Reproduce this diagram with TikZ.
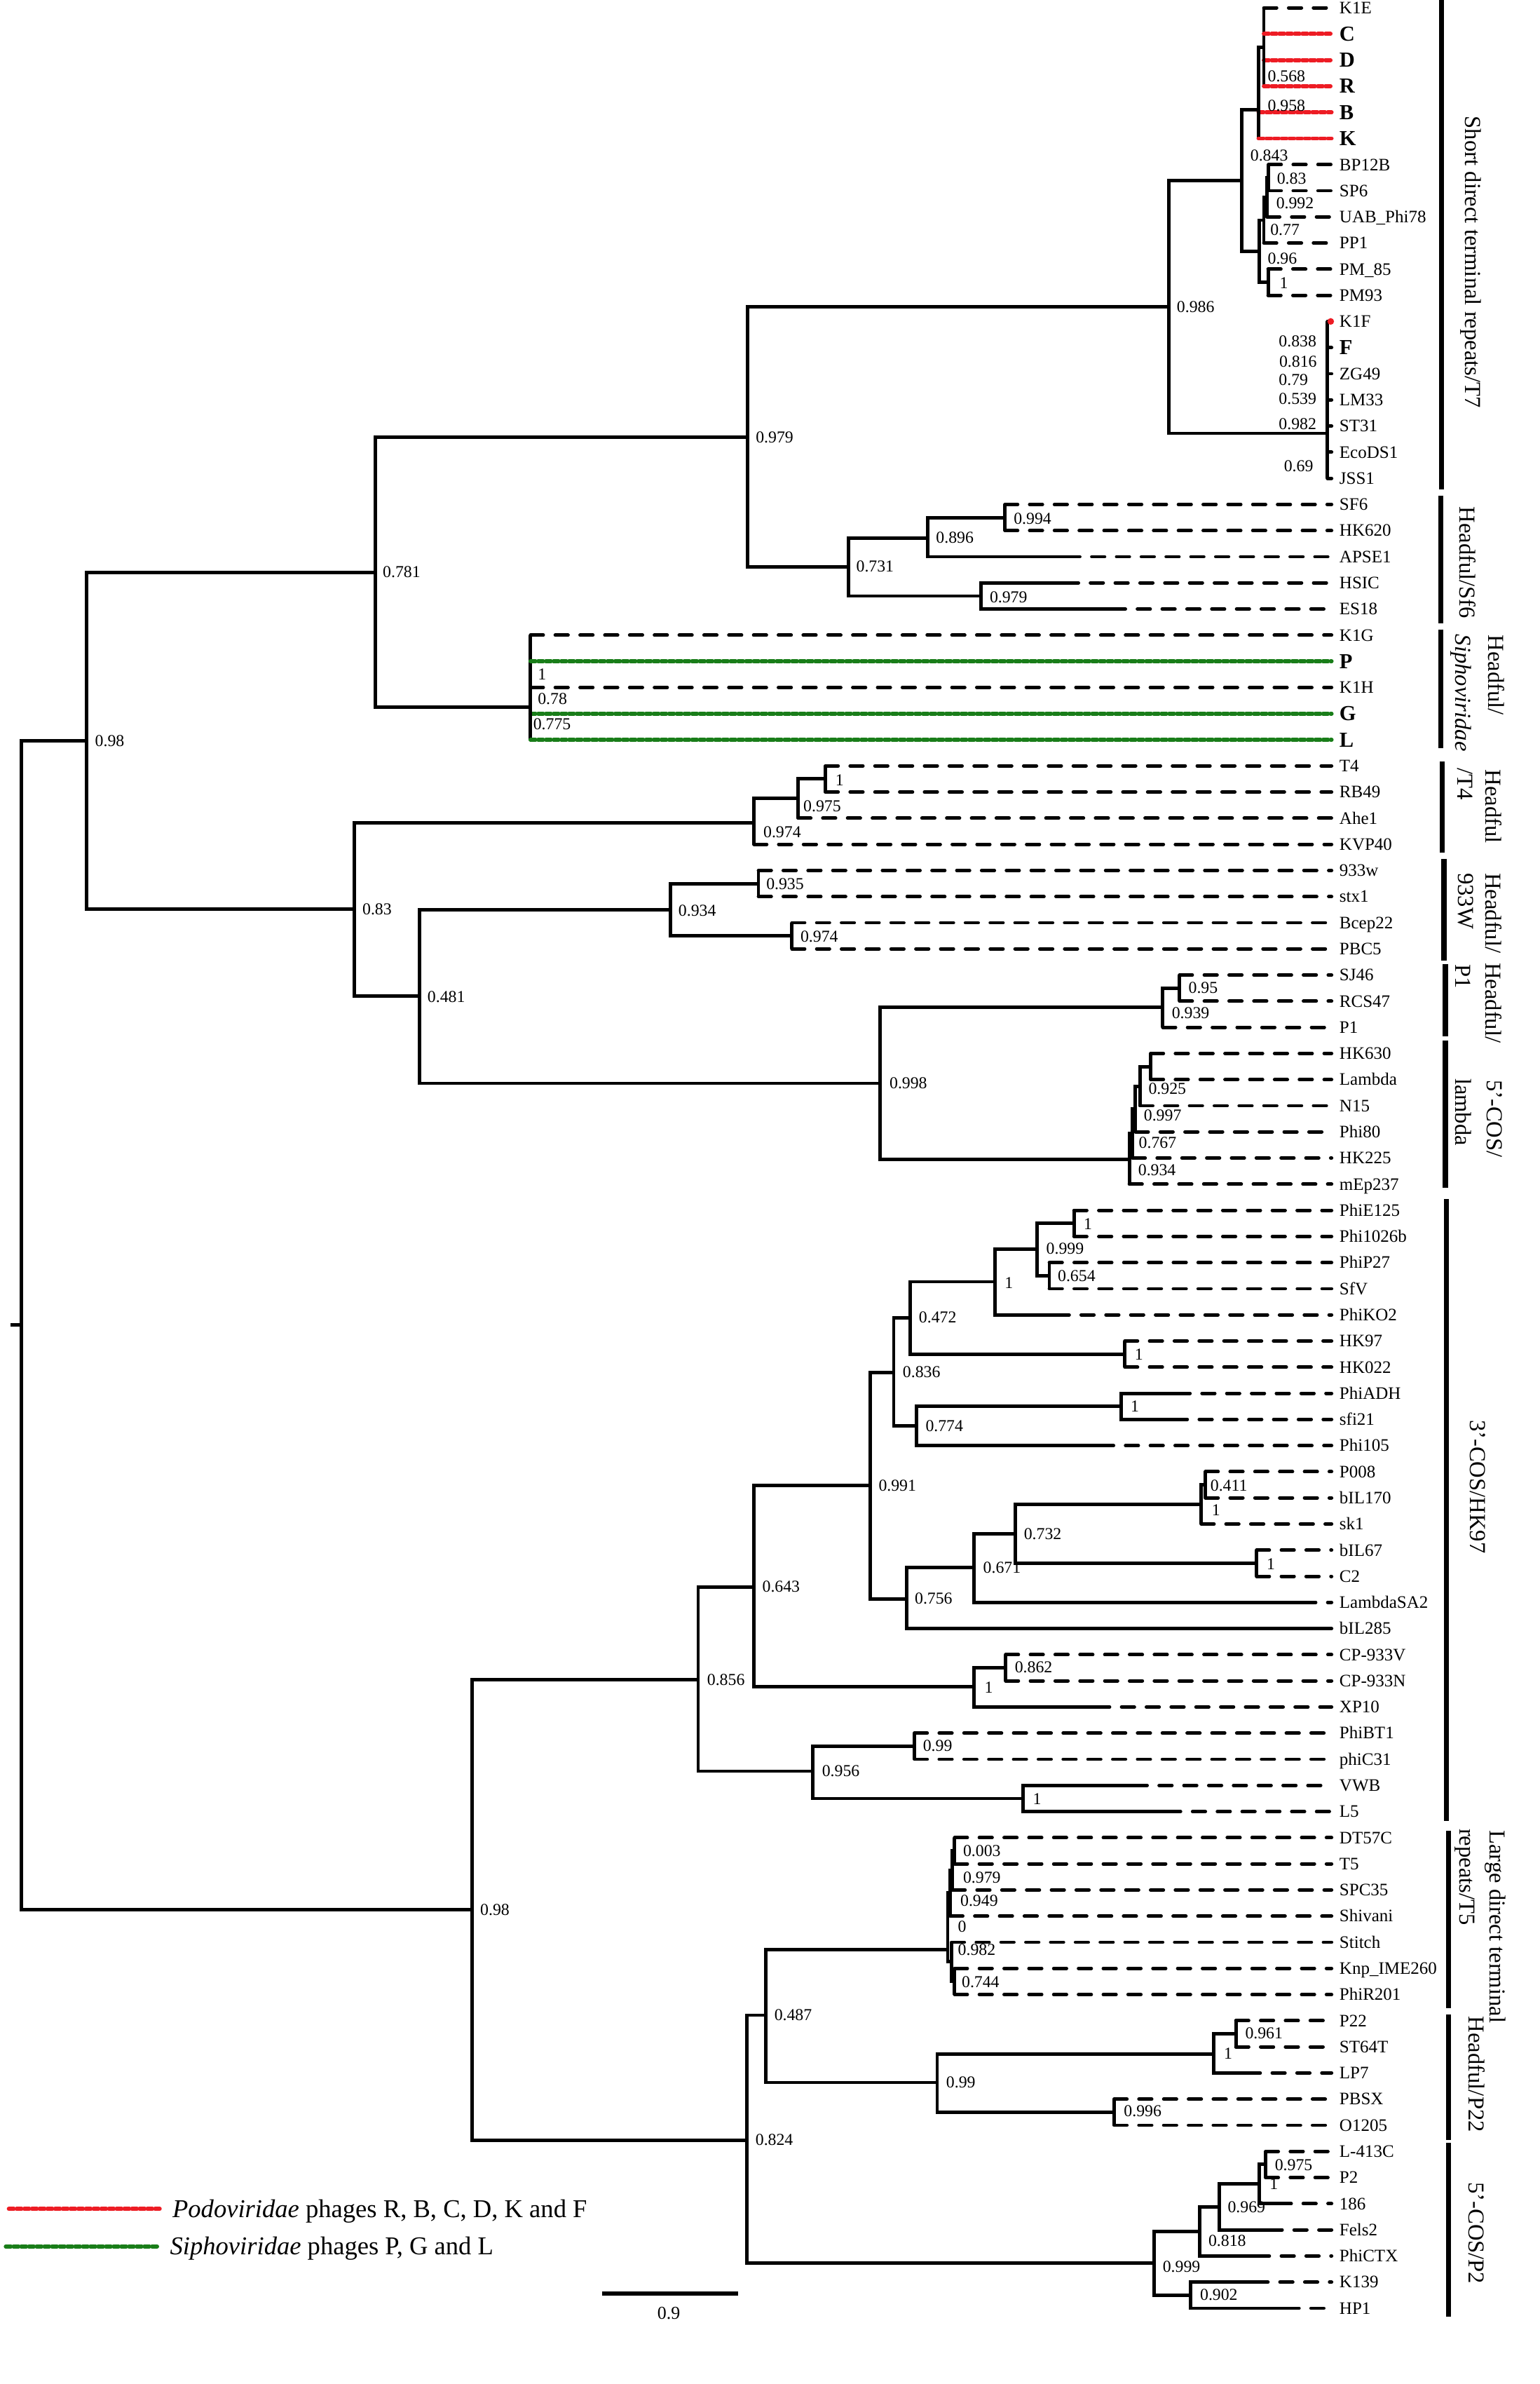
\documentclass[tikz,border=0pt]{standalone}
\usepackage{fontspec}
\setmainfont{Liberation Serif}
\definecolor{podred}{RGB}{237,28,36}
\definecolor{siphgreen}{RGB}{25,125,25}
\tikzset{
  br/.style={line width=1.6pt},
  dsh/.style={line width=1.6pt, dash pattern=on 6pt off 5.6pt, line cap=round, shorten >=3.5pt},
  redl/.style={draw=podred, line width=1.9pt, dash pattern=on 2.4pt off 1.2pt, line cap=round, shorten >=3.5pt},
  grnl/.style={draw=siphgreen, line width=1.9pt, dash pattern=on 2.4pt off 1.2pt, line cap=round, shorten >=3.5pt},
  lf/.style={anchor=west, inner sep=0pt, font=\fontsize{8.2}{9.8}\selectfont, text height=5.4pt, text depth=0pt},
  lfb/.style={lf, font=\fontsize{10}{12}\selectfont\bfseries, text height=6.6pt},
  bsv/.style={anchor=west, inner sep=0pt, font=\fontsize{7.8}{9}\selectfont},
  grp/.style={rotate=-90, anchor=west, inner sep=0pt, font=\fontsize{10.7}{12.8}\selectfont, text height=7.3pt, text depth=2.2pt},
  gbar/.style={line width=2.4pt},
  lgt/.style={anchor=west, inner sep=0pt, font=\fontsize{12}{14}\selectfont, text height=7.9pt, text depth=0pt},
}
% leaf whose dashed line starts at the parent
\newcommand\leafD[4][lf]{%
  \node[#1] (L#2) at (881,{5.1+17.194*#2}) {#3};
  \coordinate (T#2) at (#4 |- L#2);
  \draw[br] (#4) |- (T#2);
  \draw[dsh] (T#2) -- (L#2);}
% leaf with solid branch up to x = #5, then dashed
\newcommand\leafX[5][lf]{%
  \node[#1] (L#2) at (881,{5.1+17.194*#2}) {#3};
  \coordinate (T#2) at (#5,{5.1+17.194*#2});
  \draw[br] (#4) |- (T#2);
  \draw[dsh] (T#2) -- (L#2);}
% coloured leaf
\newcommand\leafC[4]{%
  \node[lfb] (L#1) at (881,{5.1+17.194*#1}) {#2};
  \coordinate (T#1) at (#3 |- L#1);
  \draw[br] (#3) |- (T#1);
  \draw[#4] (T#1) -- (L#1);}
\newcommand\bsl[3]{\node[bsv] (b#1) at (#2) {#3};}
\newcommand\gbr[4]{\coordinate (gb#1a) at (#2,#3); \coordinate (gb#1b) at (#2,#4); \draw[gbar] (gb#1a) -- (gb#1b);}
\begin{document}
\begin{tikzpicture}[x=0.025cm,y=-0.025cm]
\useasboundingbox (0,0) rectangle (1013,1568);
% ---------- internal nodes ----------
\coordinate (root) at (14.1,871.5);
\coordinate (rstub) at (6.9,871.5);
\coordinate (nA98) at (57,487.4);
\coordinate (n781) at (247,376.4);
\coordinate (n979) at (492,287.5);
\coordinate (n986) at (769,201.7);
\coordinate (n843) at (817,118.6);
\coordinate (nup) at (828,72);
\coordinate (nkc) at (831.5,31);
\coordinate (nlow) at (828.5,165.2);
\coordinate (nbsup) at (831.5,144.8);
\coordinate (nbsu) at (833.5,129.8);
\coordinate (nbs) at (834.5,116.9);
\coordinate (npm) at (834.3,185.6);
\coordinate (nkf) at (873.3,285);
\coordinate (n731) at (558.3,372.7);
\coordinate (n896) at (610.3,353.8);
\coordinate (n994) at (661.1,340.4);
\coordinate (n979h) at (645.6,392);
\coordinate (nsiph) at (349,465);
\coordinate (n83) at (233.2,598);
\coordinate (n974) at (496,541);
\coordinate (n975) at (525,525);
\coordinate (nT4) at (543,512.3);
\coordinate (n481) at (276,655.2);
\coordinate (n934) at (441,598.3);
\coordinate (n935) at (499,581.1);
\coordinate (n974b) at (521,615.5);
\coordinate (n998) at (579.2,712.5);
\coordinate (n939) at (765,662.3);
\coordinate (n95) at (776,649.9);
\coordinate (lam5) at (743,762.4);
\coordinate (lam4) at (745,745.5);
\coordinate (lam3) at (747,729.4);
\coordinate (lam2) at (750,714.4);
\coordinate (lam1) at (757,701.5);
\coordinate (nB98) at (310.6,1255.9);
\coordinate (n856) at (459.3,1104.8);
\coordinate (n643) at (495.8,1043.7);
\coordinate (n991) at (572.5,976.8);
\coordinate (n836) at (588,902.6);
\coordinate (n472) at (599,866.6);
\coordinate (nA1) at (654.6,843);
\coordinate (n999) at (682.3,821.4);
\coordinate (nE125) at (706.6,804.6);
\coordinate (n654) at (690.4,839);
\coordinate (nHK97) at (740,890.6);
\coordinate (n774) at (602.9,937.9);
\coordinate (nADH) at (737.5,925);
\coordinate (n756) at (596.4,1051.5);
\coordinate (n671) at (641,1030.8);
\coordinate (n732) at (668,1008.7);
\coordinate (nsk1) at (790.3,989.5);
\coordinate (nP008) at (793,976.6);
\coordinate (nbIL67) at (826.7,1028.2);
\coordinate (nCP) at (641,1109.5);
\coordinate (n862) at (661.6,1096.9);
\coordinate (n956) at (534.9,1164.9);
\coordinate (n99a) at (601.6,1148.5);
\coordinate (nVWB) at (673,1182.9);
\coordinate (n824) at (491.2,1407.6);
\coordinate (n487) at (504,1325.4);
\coordinate (g0) at (623.5,1282.3);
\coordinate (g3) at (625,1245);
\coordinate (g2) at (626.5,1230.2);
\coordinate (g1) at (628,1217.3);
\coordinate (g5) at (626,1290);
\coordinate (g6) at (628,1303.2);
\coordinate (n99b) at (616.6,1369.7);
\coordinate (nP22) at (798.7,1350.8);
\coordinate (n961) at (813.1,1337.6);
\coordinate (n996) at (733,1389.2);
\coordinate (nP2r) at (759.4,1488.6);
\coordinate (n818) at (789.3,1467.7);
\coordinate (n969) at (802.1,1451.6);
\coordinate (n1p) at (828.4,1436.2);
\coordinate (n975p) at (832.6,1423.6);
\coordinate (n902) at (783.4,1509.6);
% ---------- internal branches ----------
\draw[br] (rstub) -- (root);
\foreach \p/\c in {root/nA98, root/nB98, nA98/n781, nA98/n83, n781/n979, n781/nsiph,
  n979/n986, n979/n731, n986/n843, n986/nkf, n843/nup, n843/nlow, nup/nkc,
  nlow/nbsup, nlow/npm, nbsup/nbsu, nbsu/nbs, n731/n896, n731/n979h, n896/n994,
  n83/n974, n83/n481, n974/n975, n975/nT4, n481/n934, n481/n998, n934/n935, n934/n974b,
  n998/n939, n998/lam5, n939/n95, lam5/lam4, lam4/lam3, lam3/lam2, lam2/lam1,
  nB98/n856, nB98/n824, n856/n643, n856/n956, n643/n991, n643/nCP, n991/n836, n991/n756,
  n836/n472, n836/n774, n472/nA1, n472/nHK97, nA1/n999, n999/nE125, n999/n654,
  n774/nADH, n756/n671, n671/n732, n732/nsk1, n732/nbIL67, nsk1/nP008, nCP/n862,
  n956/n99a, n956/nVWB, n824/n487, n824/nP2r, n487/g0, n487/n99b, g0/g3, g0/g5,
  g3/g2, g2/g1, g5/g6, n99b/nP22, n99b/n996, nP22/n961, nP2r/n818, nP2r/n902,
  n818/n969, n969/n1p, n1p/n975p}
  {\draw[br] (\p) |- (\c);}
% ---------- leaves ----------
\leafD{0}{K1E}{nkc}
\leafC{1}{C}{nkc}{redl}
\leafC{2}{D}{nkc}{redl}
\leafC{3}{R}{nkc}{redl}
\leafC{4}{B}{nup}{redl}
\leafC{5}{K}{nup}{redl}
\leafD{6}{BP12B}{nbs}
\leafD{7}{SP6}{nbs}
\leafD{8}{UAB\_Phi78}{nbsu}
\leafD{9}{PP1}{nbsup}
\leafD{10}{PM\_85}{npm}
\leafD{11}{PM93}{npm}
\leafD{12}{K1F}{nkf}
\leafD[lfb]{13}{F}{nkf}
\leafD{14}{ZG49}{nkf}
\leafD{15}{LM33}{nkf}
\leafD{16}{ST31}{nkf}
\leafD{17}{EcoDS1}{nkf}
\leafD{18}{JSS1}{nkf}
\node[circle, fill=podred, inner sep=1.1pt] (rdot) at (875.5,211.4) {};
\leafD{19}{SF6}{n994}
\leafD{20}{HK620}{n994}
\leafX{21}{APSE1}{n896}{702}
\leafX{22}{HSIC}{n979h}{701.1}
\leafX{23}{ES18}{n979h}{732}
\leafD{24}{K1G}{nsiph}
\leafC{25}{P}{nsiph}{grnl}
\leafD{26}{K1H}{nsiph}
\leafC{27}{G}{nsiph}{grnl}
\leafC{28}{L}{nsiph}{grnl}
\leafD{29}{T4}{nT4}
\leafD{30}{RB49}{nT4}
\leafD{31}{Ahe1}{n975}
\leafD{32}{KVP40}{n974}
\leafD{33}{933w}{n935}
\leafD{34}{stx1}{n935}
\leafD{35}{Bcep22}{n974b}
\leafD{36}{PBC5}{n974b}
\leafD{37}{SJ46}{n95}
\leafD{38}{RCS47}{n95}
\leafD{39}{P1}{n939}
\leafD{40}{HK630}{lam1}
\leafD{41}{Lambda}{lam1}
\leafD{42}{N15}{lam2}
\leafD{43}{Phi80}{lam3}
\leafD{44}{HK225}{lam4}
\leafD{45}{mEp237}{lam5}
\leafD{46}{PhiE125}{nE125}
\leafD{47}{Phi1026b}{nE125}
\leafD{48}{PhiP27}{n654}
\leafD{49}{SfV}{n654}
\leafX{50}{PhiKO2}{nA1}{695}
\leafD{51}{HK97}{nHK97}
\leafD{52}{HK022}{nHK97}
\leafX{53}{PhiADH}{nADH}{774.5}
\leafX{54}{sfi21}{nADH}{772.7}
\leafX{55}{Phi105}{n774}{724.2}
\leafD{56}{P008}{nP008}
\leafD{57}{bIL170}{nP008}
\leafD{58}{sk1}{nsk1}
\leafD{59}{bIL67}{nbIL67}
\leafD{60}{C2}{nbIL67}
\leafX{61}{LambdaSA2}{n671}{857.2}
\leafX{62}{bIL285}{n756}{876}
\leafD{63}{CP-933V}{n862}
\leafD{64}{CP-933N}{n862}
\leafX{65}{XP10}{nCP}{721.6}
\leafD{66}{PhiBT1}{n99a}
\leafD{67}{phiC31}{n99a}
\leafX{68}{VWB}{nVWB}{746.3}
\leafX{69}{L5}{nVWB}{768.3}
\leafD{70}{DT57C}{g1}
\leafD{71}{T5}{g1}
\leafD{72}{SPC35}{g2}
\leafD{73}{Shivani}{g3}
\leafD{74}{Stitch}{g5}
\leafD{75}{Knp\_IME260}{g6}
\leafD{76}{PhiR201}{g6}
\leafD{77}{P22}{n961}
\leafD{78}{ST64T}{n961}
\leafX{79}{LP7}{nP22}{820.7}
\leafD{80}{PBSX}{n996}
\leafD{81}{O1205}{n996}
\leafD{82}{L-413C}{n975p}
\leafD{83}{P2}{n975p}
\leafX{84}{186}{n1p}{841.1}
\leafX{85}{Fels2}{n969}{835.1}
\leafX{86}{PhiCTX}{n818}{826.7}
\leafX{87}{K139}{n902}{825.8}
\leafX{88}{HP1}{n902}{846.2}
% ---------- support values ----------
\bsl{1}{62.3,487.4}{0.98}
\bsl{2}{251.6,376.4}{0.781}
\bsl{3}{497,287.5}{0.979}
\bsl{4}{774,201.7}{0.986}
\bsl{5}{822.4,102.3}{0.843}
\bsl{6}{833.8,50}{0.568}
\bsl{7}{833.8,69.6}{0.958}
\bsl{8}{839.9,117.3}{0.83}
\bsl{9}{839.4,133.8}{0.992}
\bsl{10}{835.5,151.3}{0.77}
\bsl{11}{833.8,170.2}{0.96}
\bsl{12}{841.6,186.3}{1}
\bsl{13}{841.1,224.3}{0.838}
\bsl{14}{841.4,237.7}{0.816}
\bsl{15}{841.1,250}{0.79}
\bsl{16}{841.1,262.4}{0.539}
\bsl{17}{841.1,278.9}{0.982}
\bsl{18}{844.5,306.6}{0.69}
\bsl{19}{563.1,372.7}{0.731}
\bsl{20}{615.6,353.8}{0.896}
\bsl{21}{666.7,341}{0.994}
\bsl{22}{650.9,392.7}{0.979}
\bsl{23}{353.6,443.7}{1}
\bsl{24}{353.6,459.9}{0.78}
\bsl{25}{350.6,476.1}{0.775}
\bsl{26}{549.4,513.3}{1}
\bsl{27}{528.3,530.4}{0.975}
\bsl{28}{502,547.2}{0.974}
\bsl{29}{238.2,598}{0.83}
\bsl{30}{503.9,581.2}{0.935}
\bsl{31}{446.1,599}{0.934}
\bsl{32}{526.4,615.8}{0.974}
\bsl{33}{281,655.6}{0.481}
\bsl{34}{585,712.5}{0.998}
\bsl{35}{781.7,649.7}{0.95}
\bsl{36}{770.7,666.1}{0.939}
\bsl{37}{755.4,716}{0.925}
\bsl{38}{752.3,733.6}{0.997}
\bsl{39}{749,751.5}{0.767}
\bsl{40}{748.6,769.7}{0.934}
\bsl{41}{712.8,805}{1}
\bsl{42}{688.1,821.4}{0.999}
\bsl{43}{695.7,839}{0.654}
\bsl{44}{660.7,843.8}{1}
\bsl{45}{604.3,866.6}{0.472}
\bsl{46}{746.3,890.8}{1}
\bsl{47}{593.7,902.6}{0.836}
\bsl{48}{743.6,925}{1}
\bsl{49}{608.7,937.9}{0.774}
\bsl{50}{577.8,977}{0.991}
\bsl{51}{796.1,977}{0.411}
\bsl{52}{797,993}{1}
\bsl{53}{673.4,1008.9}{0.732}
\bsl{54}{833.1,1028.6}{1}
\bsl{55}{646.6,1031}{0.671}
\bsl{56}{601.6,1051.5}{0.756}
\bsl{57}{501.3,1043.7}{0.643}
\bsl{58}{667.4,1096.6}{0.862}
\bsl{59}{647.5,1110}{1}
\bsl{60}{465,1104.8}{0.856}
\bsl{61}{607,1148.4}{0.99}
\bsl{62}{540.6,1165}{0.956}
\bsl{63}{679.3,1183}{1}
\bsl{64}{633.4,1217.5}{0.003}
\bsl{65}{633.4,1234.7}{0.979}
\bsl{66}{631.6,1250}{0.949}
\bsl{67}{630,1267.2}{0}
\bsl{68}{630,1282.3}{0.982}
\bsl{69}{632.5,1303.5}{0.744}
\bsl{70}{315.7,1255.9}{0.98}
\bsl{71}{509.2,1325.4}{0.487}
\bsl{72}{819,1337.4}{0.961}
\bsl{73}{805,1350.8}{1}
\bsl{74}{622.3,1369.7}{0.99}
\bsl{75}{739.2,1388.7}{0.996}
\bsl{76}{496.8,1407.6}{0.824}
\bsl{77}{838.5,1423.8}{0.975}
\bsl{78}{835.1,1436.2}{1}
\bsl{79}{807.5,1451.6}{0.969}
\bsl{80}{794.8,1473.6}{0.818}
\bsl{81}{764.7,1491}{0.999}
\bsl{82}{789.3,1509.3}{0.902}
% ---------- group bars and labels ----------
\gbr{1}{948.5}{0}{321.7}
\gbr{2}{948}{326}{410}
\gbr{3}{948}{414}{492}
\gbr{4}{949}{501}{561}
\gbr{5}{950}{565}{632}
\gbr{6}{951}{634}{681.6}
\gbr{7}{951}{684.6}{781.4}
\gbr{8}{951.5}{788.6}{1197.8}
\gbr{9}{953}{1204}{1321}
\gbr{10}{953}{1325}{1407.4}
\gbr{11}{953}{1409.4}{1523.7}
\node[grp] (gt1) at (967.5,76.2) {Short direct terminal repeats/T7};
\node[grp] (gt2) at (964,333) {Headful/Sf6};
\node[grp] (gt3a) at (982.8,417.3) {Headful/};
\node[grp] (gt3b) at (961,417) {\textit{Siphoviridae}};
\node[grp] (gt4a) at (981,506) {Headful};
\node[grp] (gt4b) at (962.4,505) {/T4};
\node[grp] (gt5a) at (981,574) {Headful/};
\node[grp] (gt5b) at (963,574) {933W};
\node[grp] (gt6a) at (981,633) {Headful/};
\node[grp] (gt6b) at (961,634) {P1};
\node[grp] (gt7a) at (982,710) {5'-COS/};
\node[grp] (gt7b) at (961,709) {lambda};
\node[grp] (gt8) at (971,933.6) {3'-COS/HK97};
\node[grp] (gt9a) at (984,1203.6) {Large direct terminal};
\node[grp] (gt9b) at (964,1202.5) {repeats/T5};
\node[grp] (gt10) at (970,1326) {Headful/P22};
\node[grp] (gt11) at (970,1435) {5'-COS/P2};
% ---------- legend and scale ----------
\coordinate (lr1) at (5.8,1452.8);
\coordinate (lr2) at (110,1452.8);
\draw[redl] (lr1) -- (lr2);
\node[lgt] (lgt1) at (113.2,1452.8) {\textit{Podoviridae} phages R, B, C, D, K and F};
\coordinate (lg1) at (3.8,1477.5);
\coordinate (lg2) at (108.6,1477.5);
\draw[grnl] (lg1) -- (lg2);
\node[lgt] (lgt2) at (111.6,1477.5) {\textit{Siphoviridae} phages P, G and L};
\coordinate (sc1) at (396,1508.4);
\coordinate (sc2) at (485.5,1508.4);
\draw[line width=2pt] (sc1) -- (sc2);
\node[inner sep=0pt, font=\fontsize{8.5}{10}\selectfont] (scl) at (440,1521.5) {0.9};
\end{tikzpicture}
\end{document}
